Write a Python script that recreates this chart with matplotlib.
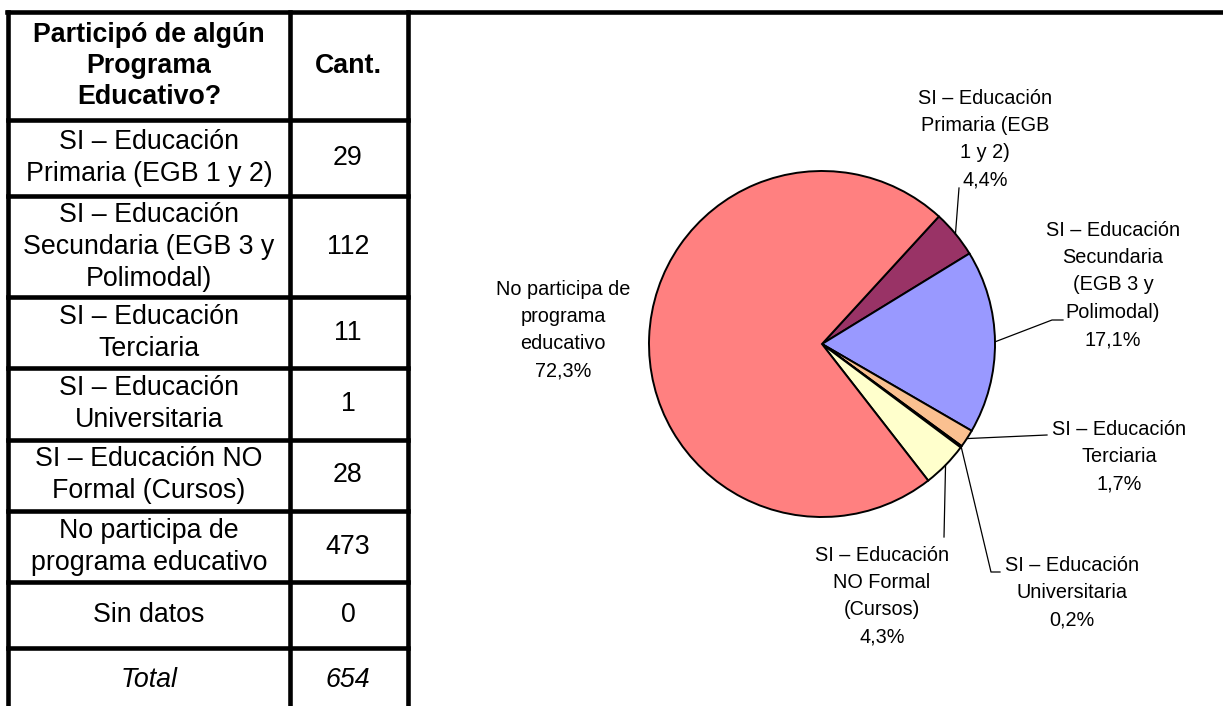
import numpy as np
import matplotlib.pyplot as plt

plt.rcParams['font.family'] = ['Liberation Sans', 'DejaVu Sans']

# %%
# Datos de la tabla
encabezado = ["Participó de algún\nPrograma\nEducativo?", "Cant."]
filas_tabla = ["SI – Educación\nPrimaria (EGB 1 y 2)",
               "SI – Educación\nSecundaria (EGB 3 y\nPolimodal)",
               "SI – Educación\nTerciaria",
               "SI – Educación\nUniversitaria",
               "SI – Educación NO\nFormal (Cursos)",
               "No participa de\nprograma educativo",
               "Sin datos"]
cantidades = [29, 112, 11, 1, 28, 473, 0]
total = sum(cantidades)

# Datos de la torta (sin "Sin datos")
etiquetas_torta = ["SI – Educación\nPrimaria (EGB\n1 y 2)",
                   "SI – Educación\nSecundaria\n(EGB 3 y\nPolimodal)",
                   "SI – Educación\nTerciaria",
                   "SI – Educación\nUniversitaria",
                   "SI – Educación\nNO Formal\n(Cursos)",
                   "No participa de\nprograma\neducativo"]
valores_torta = cantidades[:6]
colores = ['#993366', '#9999FF', '#FAC090', '#CCFFFF', '#FFFFCC', '#FF8080']

# %%
W, H = 1223, 706
fig = plt.figure(figsize=(W / 100, H / 100), dpi=100)

# torta: centro y radio en pixeles
cx, cy, R = 822, 344, 173
caja = 200
ax_pie = fig.add_axes([(cx - caja) / W, (H - cy - caja) / H, 2 * caja / W, 2 * caja / H])
inicio = 47.5
ax_pie.pie(valores_torta, colors=colores, startangle=inicio, counterclock=False,
           wedgeprops=dict(edgecolor='black', linewidth=1.4))
ax_pie.set_xlim(-caja / R, caja / R)
ax_pie.set_ylim(-caja / R, caja / R)
ax_pie.axis('off')

# capa superior en pixeles para tabla, etiquetas y lineas guia
ax = fig.add_axes([0, 0, 1, 1])
ax.set_xlim(0, W)
ax.set_ylim(H, 0)
ax.axis('off')

# marco y grilla de la tabla
lw = 3.3
kw = dict(color='black', lw=lw, solid_capstyle='projecting')
ax.plot([7, W + 5], [11.5, 11.5], **kw)
for x in [8, 289.5, 407.5]:
    ax.plot([x, x], [11.5, H + 5], **kw)
y_lineas = [120, 196, 297, 368, 440, 511, 582, 648]
for y in y_lineas:
    ax.plot([8, 407.5], [y, y], **kw)

fs_tabla = 19.3
x_col1, x_col2 = 149, 348
ax.text(x_col1, 66, encabezado[0], ha='center', va='center', fontsize=fs_tabla,
        fontweight='bold', linespacing=1.25)
ax.text(x_col2, 66, encabezado[1], ha='center', va='center', fontsize=fs_tabla,
        fontweight='bold')
for i, (nombre, cant) in enumerate(zip(filas_tabla, cantidades)):
    yc = (y_lineas[i] + y_lineas[i + 1]) / 2
    ax.text(x_col1, yc, nombre, ha='center', va='center', fontsize=fs_tabla, linespacing=1.3)
    ax.text(x_col2, yc, str(cant), ha='center', va='center', fontsize=fs_tabla)
ax.text(x_col1, 680, "Total", ha='center', va='center', fontsize=fs_tabla, style='italic')
ax.text(x_col2, 680, str(total), ha='center', va='center', fontsize=fs_tabla, style='italic')

# etiquetas de la torta
pos_etiquetas = [(985, 139), (1113, 285), (1119, 457), (1072, 593), (882, 596), (563, 330)]
guias = [[(959, 188)],
         [(1052, 320), (1063, 320)],
         [(1047, 435)],
         [(991, 572), (1000, 572)],
         [(944, 537)],
         []]

acum = np.cumsum([0] + valores_torta)
suma = acum[-1]
for i, etiqueta in enumerate(etiquetas_torta):
    pct = f"{valores_torta[i] / suma * 100:.1f}".replace('.', ',')
    x, y = pos_etiquetas[i]
    ax.text(x, y, etiqueta + "\n" + pct + "%", ha='center', va='center',
            fontsize=14.3, linespacing=1.55)
    if guias[i]:
        ang = np.deg2rad(inicio - (acum[i] + valores_torta[i] / 2) / suma * 360)
        px, py = cx + R * np.cos(ang), cy - R * np.sin(ang)
        xs = [px] + [p[0] for p in guias[i]]
        ys = [py] + [p[1] for p in guias[i]]
        ax.plot(xs, ys, color='black', lw=0.9)

fig.savefig('out.png', dpi=100)
